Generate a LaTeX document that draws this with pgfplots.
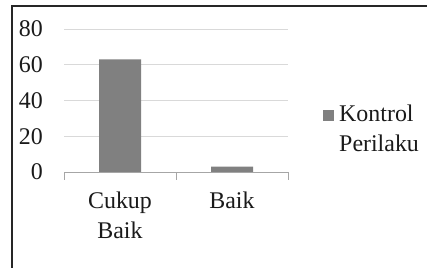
\documentclass[border=0pt]{standalone}
\usepackage{fontspec}
\setmainfont{Liberation Serif}
\usepackage{pgfplots}
\pgfplotsset{compat=1.18}
\definecolor{barfill}{HTML}{808080}
\definecolor{gridc}{HTML}{D9D9D9}
\definecolor{axisc}{HTML}{A6A6A6}
\definecolor{txt}{HTML}{1A1A1A}
\begin{document}
\begin{tikzpicture}
\useasboundingbox (0,0) rectangle (427bp,268bp);
\fill[white] (0,0) rectangle (427bp,268bp);
\draw[line width=1.2bp, black!85] (12bp,0) -- (12bp,262bp) -- (427bp,262bp);
\begin{axis}[
  at={(64bp,96bp)}, anchor=south west,
  scale only axis, width=224bp, height=143bp,
  xmin=-0.5, xmax=1.5, ymin=0, ymax=80,
  ytick={0,20,40,60,80},
  xtick={0,1},
  xticklabels={{Cukup\\Baik},{Baik}},
  extra x ticks={-0.5,0.5,1.5},
  extra x tick labels={},
  extra x tick style={major tick length=8bp, tick style={axisc, line width=0.8bp}, tick align=outside, grid=none},
  major tick length=0pt,
  axis lines=left,
  axis line style={-},
  x axis line style={axisc, line width=0.8bp},
  y axis line style={draw=none},
  ymajorgrids,
  grid style={gridc, line width=0.8bp},
  /pgf/number format/assume math mode=true,
  tick label style={font=\fontsize{24}{30}\selectfont, text=txt},
  yticklabel style={anchor=east, inner sep=0pt, xshift=-21bp},
  xticklabel style={align=center, anchor=north, inner sep=0pt, yshift=-20bp},
  ybar, bar width=42bp,
  legend style={at={(axis description cs:1.143,0.30)}, anchor=west, draw=none, fill=none,
    font=\fontsize{24}{30}\selectfont, text=txt, nodes={align=left, inner ysep=1bp, inner xsep=5bp}},
  legend image code/.code={\fill[barfill] (0bp,8bp) rectangle (11bp,19bp);},
]
\addplot[fill=barfill, draw=none] coordinates {(0,63) (1,3)};
\addlegendentry{Kontrol\\Perilaku}
\end{axis}
\end{tikzpicture}
\end{document}
